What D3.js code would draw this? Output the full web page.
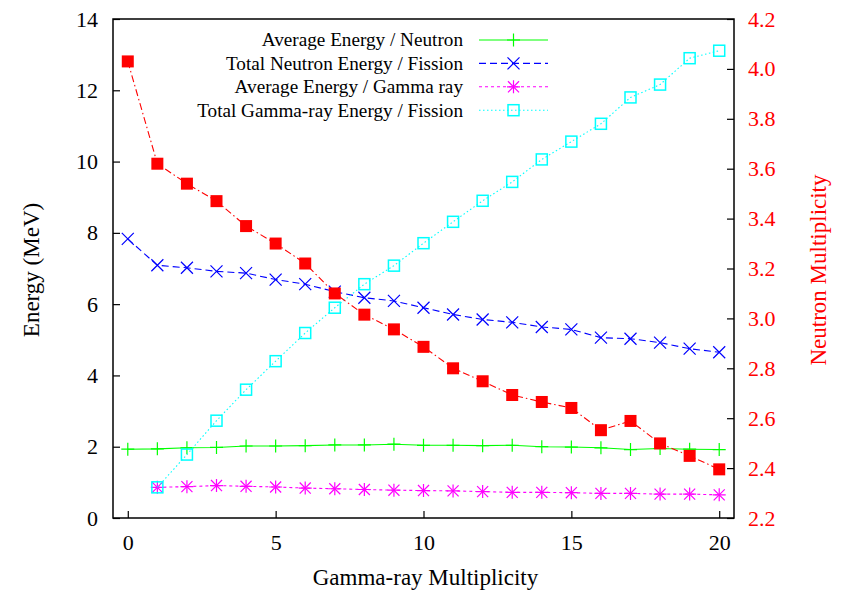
<!DOCTYPE html>
<html>
<head>
<meta charset="utf-8">
<script src="https://cdn.jsdelivr.net/npm/d3@7"></script>
<style>
  body { margin: 0; background: #fff; }
  svg text { font-family: "Liberation Serif", "Times New Roman", serif; }
</style>
</head>
<body>
<div id="chart"></div>
<script>
// data
const gammaMult = d3.range(0, 21);
const gammaMultFrom1 = d3.range(1, 21);

const avgEnergyPerNeutron = [1.93, 1.94, 1.97, 1.98, 2.02, 2.02, 2.03, 2.05, 2.05, 2.07, 2.04,
  2.04, 2.03, 2.04, 2.00, 1.99, 1.97, 1.92, 1.95, 1.93, 1.92];
const totalNeutronEnergy = [7.83, 7.09, 7.02, 6.92, 6.87, 6.69, 6.56, 6.35, 6.18, 6.09, 5.90,
  5.71, 5.57, 5.49, 5.36, 5.29, 5.06, 5.03, 4.92, 4.75, 4.65];
const avgEnergyPerGamma = [0.86, 0.88, 0.91, 0.89, 0.87, 0.84, 0.82, 0.80, 0.78, 0.77,
  0.76, 0.74, 0.72, 0.72, 0.71, 0.69, 0.69, 0.67, 0.67, 0.65];
const totalGammaEnergy = [0.86, 1.78, 2.73, 3.60, 4.40, 5.19, 5.90, 6.56, 7.08, 7.71,
  8.31, 8.90, 9.43, 10.06, 10.56, 11.06, 11.80, 12.16, 12.90, 13.11];
const neutronMultiplicity = [4.03, 3.62, 3.54, 3.47, 3.37, 3.30, 3.22, 3.10, 3.015, 2.956, 2.886,
  2.80, 2.748, 2.693, 2.665, 2.641, 2.552, 2.589, 2.499, 2.449, 2.395];

const xTicks = [0, 5, 10, 15, 20];
const yTicks = d3.range(0, 15, 2);
const y2Ticks = d3.range(2.2, 4.21, 0.2);

const legendLabels = ["Average Energy / Neutron", "Total Neutron Energy / Fission",
  "Average Energy / Gamma ray", "Total Gamma-ray Energy / Fission"];

// layout
const W = 844, H = 591;
const plotL = 113, plotR = 734, plotT = 19, plotB = 518;

const svg = d3.select("#chart").append("svg")
  .attr("width", W)
  .attr("height", H);

const x = d3.scaleLinear().domain([-0.5, 20.5]).range([plotL, plotR]);
const y = d3.scaleLinear().domain([0, 14]).range([plotB, plotT]);
const y2 = d3.scaleLinear().domain([2.2, 4.2]).range([plotB, plotT]);

// axes, ticks pointing inward
const gx = svg.append("g")
  .attr("transform", `translate(0,${plotB})`)
  .call(d3.axisBottom(x).tickValues(xTicks).tickSize(-7).tickPadding(16).tickFormat(d3.format("d")));
const gy = svg.append("g")
  .attr("transform", `translate(${plotL},0)`)
  .call(d3.axisLeft(y).tickValues(yTicks).tickSize(-7).tickPadding(15).tickFormat(d3.format("d")));
const gy2 = svg.append("g")
  .attr("transform", `translate(${plotR},0)`)
  .call(d3.axisRight(y2).tickValues(y2Ticks).tickSize(-7).tickPadding(14).tickFormat(d3.format(".1f")));

[gx, gy, gy2].forEach(g => {
  g.attr("font-family", null);
  g.select(".domain").remove();
  g.selectAll("line").attr("stroke", "#000").attr("stroke-width", 1.2);
  g.selectAll("text").attr("font-size", 22).attr("fill", "#000");
});
gy2.selectAll("text").attr("fill", "#ff0000");

svg.append("rect")
  .attr("x", plotL).attr("y", plotT)
  .attr("width", plotR - plotL).attr("height", plotB - plotT)
  .attr("fill", "none").attr("stroke", "#000").attr("stroke-width", 1.5);

// axis titles
svg.append("text")
  .attr("x", (plotL + plotR) / 2 + 2).attr("y", 585)
  .attr("text-anchor", "middle").attr("font-size", 23)
  .text("Gamma-ray Multiplicity");
svg.append("text")
  .attr("transform", "translate(39,270) rotate(-90)")
  .attr("text-anchor", "middle").attr("font-size", 23)
  .text("Energy (MeV)");
svg.append("text")
  .attr("transform", "translate(826,270) rotate(-90)")
  .attr("text-anchor", "middle").attr("font-size", 23).attr("fill", "#ff0000")
  .text("Neutron Multiplicity");

// marker shapes
function plus(g, cx, cy, s, col) {
  g.append("path").attr("d", `M${cx - s},${cy}H${cx + s}M${cx},${cy - s}V${cy + s}`)
    .attr("stroke", col).attr("stroke-width", 1.2).attr("fill", "none");
}
function cross(g, cx, cy, s, col) {
  g.append("path").attr("d", `M${cx - s},${cy - s}L${cx + s},${cy + s}M${cx - s},${cy + s}L${cx + s},${cy - s}`)
    .attr("stroke", col).attr("stroke-width", 1.2).attr("fill", "none");
}
function star(g, cx, cy, s, col) {
  plus(g, cx, cy, s, col);
  cross(g, cx, cy, s * 0.85, col);
}
function openSquare(g, cx, cy, s, col) {
  g.append("rect").attr("x", cx - s).attr("y", cy - s).attr("width", 2 * s).attr("height", 2 * s)
    .attr("fill", "none").attr("stroke", col).attr("stroke-width", 1.5);
}
function filledSquare(g, cx, cy, s, col) {
  g.append("rect").attr("x", cx - s).attr("y", cy - s).attr("width", 2 * s).attr("height", 2 * s)
    .attr("fill", col);
}

const series = [
  { xs: gammaMult, ys: avgEnergyPerNeutron, sc: y, col: "#00ff00", dash: null, mark: plus, size: 6.5 },
  { xs: gammaMult, ys: totalNeutronEnergy, sc: y, col: "#0000ff", dash: "7,4", mark: cross, size: 6 },
  { xs: gammaMultFrom1, ys: avgEnergyPerGamma, sc: y, col: "#ff00ff", dash: "3,3", mark: star, size: 6.5 },
  { xs: gammaMultFrom1, ys: totalGammaEnergy, sc: y, col: "#00ffff", dash: "1.5,2.5", mark: openSquare, size: 5.5 },
  { xs: gammaMult, ys: neutronMultiplicity, sc: y2, col: "#ff0000", dash: "7,3,1.5,3", mark: filledSquare, size: 6 }
];

const plot = svg.append("g");
series.forEach(s => {
  const pts = s.xs.map((v, i) => [x(v), s.sc(s.ys[i])]);
  plot.append("path")
    .attr("d", d3.line()(pts))
    .attr("fill", "none")
    .attr("stroke", s.col)
    .attr("stroke-width", 1.1)
    .attr("stroke-dasharray", s.dash);
  const g = plot.append("g");
  pts.forEach(p => s.mark(g, p[0], p[1], s.size, s.col));
});

// legend
const legend = svg.append("g");
legendLabels.forEach((lab, i) => {
  const s = series[i];
  const ly = 40 + i * 23.4;
  legend.append("text")
    .attr("x", 463).attr("y", ly).attr("dy", "0.33em")
    .attr("text-anchor", "end").attr("font-size", 19.2)
    .text(lab);
  legend.append("line")
    .attr("x1", 479).attr("x2", 548).attr("y1", ly).attr("y2", ly)
    .attr("stroke", s.col).attr("stroke-width", 1.1)
    .attr("stroke-dasharray", s.dash);
  s.mark(legend, 513.5, ly, s.size, s.col);
});
</script>
</body>
</html>
